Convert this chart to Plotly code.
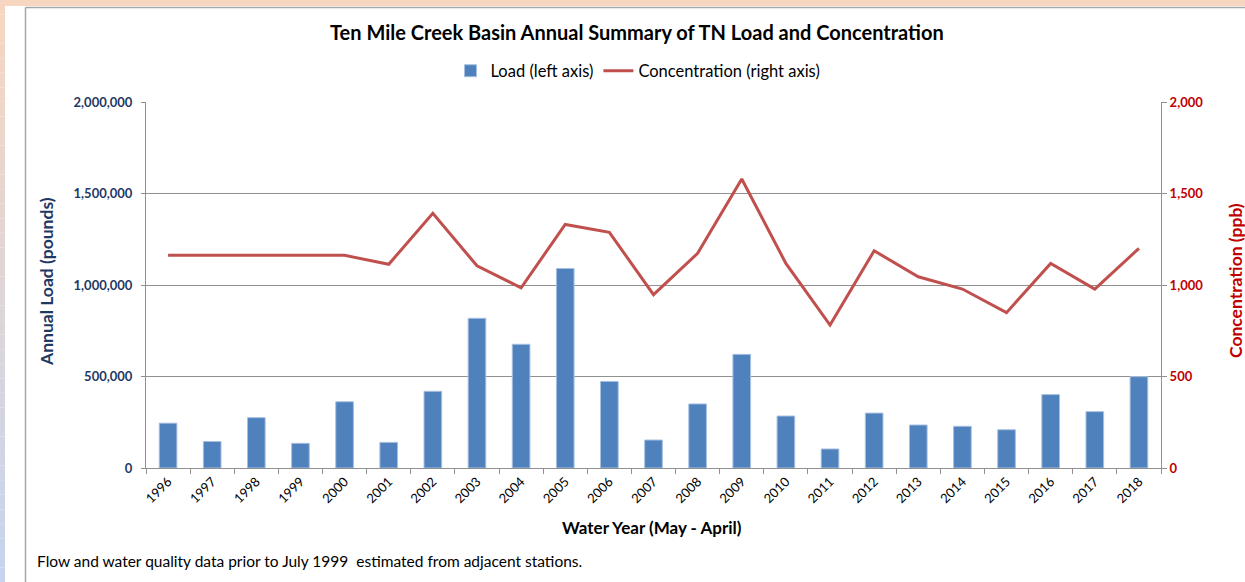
import plotly.graph_objects as go

years = [str(y) for y in range(1996, 2019)]
load = [245000, 145000, 275000, 135000, 362000, 140000, 419000, 818000, 676000,
        1090000, 473000, 153000, 350000, 621000, 284000, 104000, 300000, 235000,
        228000, 209000, 401000, 308000, 499000]
conc = [1162, 1162, 1162, 1162, 1162, 1113, 1392, 1105, 985, 1331, 1288, 947,
        1173, 1579, 1118, 781, 1187, 1045, 978, 849, 1118, 978, 1200]
left_ticks = [0, 500000, 1000000, 1500000, 2000000]
right_ticks = [0, 500, 1000, 1500, 2000]

W, H = 1245, 582
L, R, T, B = 146, 84, 102, 114
PW, PH = W - L - R, H - T - B

def px(x):
    return (x - L) / PW

def py(y):
    return (H - B - y) / PH

FONT = "Lato"
NAVY = "#1F3864"
RED = "#C00000"
GRID = "#909090"

fig = go.Figure()
fig.add_trace(go.Bar(x=years, y=load, name="Load (left axis)",
                     marker=dict(color="#4F81BD", line=dict(color="#A7C0E0", width=1)),
                     yaxis="y"))
fig.add_trace(go.Scatter(x=years, y=conc, name="Concentration (right axis)",
                         mode="lines", line=dict(color="#C0504D", width=3),
                         yaxis="y2"))

shapes = []
# left gradient strip
n = 40
c0 = (246, 214, 192)
c1 = (198, 212, 238)
for i in range(n):
    t = i / (n - 1)
    c = tuple(round(c0[k] + (c1[k] - c0[k]) * t) for k in range(3))
    y0 = i * H / n
    y1 = (i + 1) * H / n
    shapes.append(dict(type="rect", xref="paper", yref="paper",
                       x0=px(0), x1=px(5), y0=py(y1), y1=py(y0),
                       fillcolor="rgb(%d,%d,%d)" % c, line=dict(width=0), layer="below"))
# top band
shapes.append(dict(type="rect", xref="paper", yref="paper",
                   x0=px(0), x1=px(W), y0=py(6), y1=py(0),
                   fillcolor="rgb(246,214,192)", line=dict(width=0), layer="below"))
# chart border lines
shapes.append(dict(type="line", xref="paper", yref="paper",
                   x0=px(25.5), x1=px(25.5), y0=py(H), y1=py(7.5),
                   line=dict(color="#A6A6A6", width=1.5), layer="below"))
shapes.append(dict(type="line", xref="paper", yref="paper",
                   x0=px(25.5), x1=px(W), y0=py(7.5), y1=py(7.5),
                   line=dict(color="#A6A6A6", width=1.5), layer="below"))

annotations = [
    dict(text="<b>Ten Mile Creek Basin Annual Summary of TN Load and Concentration</b>",
         xref="paper", yref="paper", x=px(637), y=py(32), showarrow=False,
         font=dict(family=FONT, size=20, color="black"), xanchor="center", yanchor="middle"),
    dict(text="<b>Water Year (May - April)</b>", xref="paper", yref="paper",
         x=px(652), y=py(527), showarrow=False,
         font=dict(family=FONT, size=17, color="black"), xanchor="center", yanchor="middle"),
    dict(text="<b>Annual Load (pounds)</b>", xref="paper", yref="paper",
         x=px(46), y=py(282), showarrow=False, textangle=-90,
         font=dict(family=FONT, size=17.5, color=NAVY), xanchor="center", yanchor="middle"),
    dict(text="<b>Concentration (ppb)</b>", xref="paper", yref="paper",
         x=px(1235), y=py(281), showarrow=False, textangle=-90,
         font=dict(family=FONT, size=17.5, color=RED), xanchor="center", yanchor="middle"),
    dict(text="Flow and water quality data prior to July 1999  estimated from adjacent stations.",
         xref="paper", yref="paper", x=px(35), y=py(561), showarrow=False,
         font=dict(family=FONT, size=15.5, color="black"), xanchor="left", yanchor="middle"),
]

fig.update_layout(
    width=W, height=H,
    margin=dict(l=L, r=R, t=T, b=B, autoexpand=False),
    paper_bgcolor="white", plot_bgcolor="white",
    font=dict(family=FONT),
    bargap=0.6,
    showlegend=True,
    legend=dict(orientation="h", x=px(638), xanchor="center", y=py(71), yanchor="middle",
                font=dict(family=FONT, size=16.5, color="black"), bgcolor="rgba(0,0,0,0)",
                itemwidth=30, tracegroupgap=0),
    shapes=shapes,
    annotations=annotations,
    xaxis=dict(type="category", tickangle=-45, tickson="boundaries", ticks="outside",
               ticklen=5, tickcolor=GRID, showline=True, linecolor=GRID, linewidth=1,
               showgrid=False, tickfont=dict(family=FONT, size=13, color="black"),
               range=[-0.5, len(years) - 0.5]),
    yaxis=dict(range=[0, 2000000], tickvals=left_ticks, tickformat=",", ticks="outside",
               ticklen=4, tickcolor=GRID, showline=True, linecolor=GRID, linewidth=1,
               showgrid=True, gridcolor=GRID, gridwidth=1, zeroline=False,
               ticklabelstandoff=6,
               tickfont=dict(family=FONT, size=13, color=NAVY, weight="bold")),
    yaxis2=dict(range=[0, 2000], tickvals=right_ticks, tickformat=",", ticks="outside",
                ticklen=5, tickcolor=GRID, showline=True, linecolor=GRID, linewidth=1,
                overlaying="y", side="right", showgrid=False, zeroline=False,
                tickfont=dict(family=FONT, size=13, color=RED, weight="bold")),
)

fig.write_html("out.html", config={"displayModeBar": False},
               post_script="document.body.style.margin='0';document.body.style.overflow='hidden';")
